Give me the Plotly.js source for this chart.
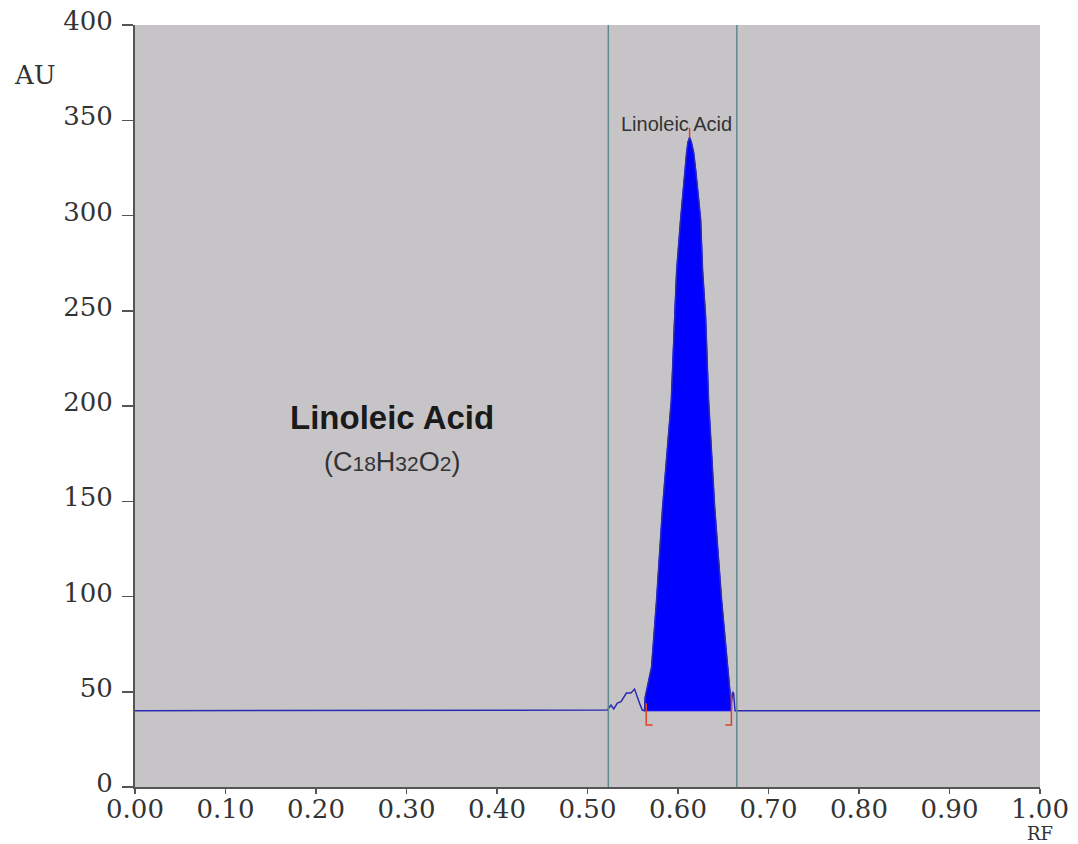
<!DOCTYPE html>
<html>
<head>
<meta charset="utf-8">
<script src="https://cdn.plot.ly/plotly-3.0.1.min.js"></script>
<style>html,body{margin:0;padding:0;background:#fff;}#chart{width:1078px;height:844px;}</style>
</head>
<body>
<div id="chart"></div>
<script>
// Densitogram signal (RF vs AU)
const rf = [0, 0.522, 0.526, 0.529, 0.533, 0.537, 0.543, 0.5465, 0.548, 0.552, 0.554, 0.5575, 0.5605, 0.563,
            0.5637, 0.5708, 0.5763, 0.583, 0.5926, 0.5962, 0.5985, 0.6029, 0.6073, 0.6095, 0.611, 0.6128,
            0.6148, 0.6173, 0.6195, 0.625, 0.6272, 0.6305, 0.6338, 0.6405, 0.6482, 0.6549, 0.658, 0.6593,
            0.6605, 0.6615, 0.663, 1.0];
const au = [40, 40.4, 43, 41, 44, 44.8, 49.3, 49.5, 49.3, 51.4, 48.3, 44, 40.4, 40,
            47, 63, 98, 147, 203, 247, 271, 298, 324, 333, 338.5, 341,
            338.5, 333, 324, 298, 271, 247, 203, 147, 98, 63, 47, 45,
            50, 49, 40, 40];
const baseline = 40;
const peakStart = 0.563;
const peakEnd = 0.6593;
const peakTop = [0.6128, 341];
const peakName = "Linoleic Acid";
const integrationWindow = [0.523, 0.665];
const bracketLeft = [0.5649, 0.572, 44, 32.5];   // x, foot x, top y, bottom y
const bracketRight = [0.659, 0.6524, 49, 32.5];
const xTicks = [0, 0.1, 0.2, 0.3, 0.4, 0.5, 0.6, 0.7, 0.8, 0.9, 1.0];
const yTicks = [0, 50, 100, 150, 200, 250, 300, 350, 400];

// peak fill polygon built from the signal
const px = [], py = [];
for (let i = 0; i < rf.length; i++) {
  if (rf[i] >= peakStart && rf[i] <= peakEnd) { px.push(rf[i]); py.push(au[i]); }
}
px.push(peakEnd, peakStart); py.push(baseline, baseline);

const traces = [
  {x: px, y: py, type: 'scatter', mode: 'lines', fill: 'toself', fillcolor: '#0000ff',
   line: {color: '#0000ff', width: 1}, hoverinfo: 'skip', showlegend: false},
  {x: rf, y: au, type: 'scatter', mode: 'lines', line: {color: '#2a2ab4', width: 1.5},
   showlegend: false}
];

const serif = 'DejaVu Serif, Liberation Serif, serif';
const red = '#e0402a';
const layout = {
  width: 1078, height: 844,
  margin: {l: 135, r: 38, t: 25, b: 57},
  paper_bgcolor: '#ffffff',
  plot_bgcolor: '#c7c4c8',
  showlegend: false,
  font: {family: serif, size: 26, color: '#333'},
  xaxis: {range: [0, 1], tickvals: xTicks, tickformat: '.2f', showgrid: false, zeroline: false,
          showline: true, linecolor: '#555', linewidth: 2, ticks: 'outside', ticklen: 5,
          tickcolor: '#555', tickwidth: 1.5, ticklabelstandoff: -7,
          tickfont: {family: serif, size: 26, color: '#333'}},
  yaxis: {range: [0, 400], tickvals: yTicks, showgrid: false, zeroline: false,
          showline: true, linecolor: '#555', linewidth: 2, ticks: 'outside', ticklen: 11,
          tickcolor: '#555', tickwidth: 1.5, ticklabelstandoff: 4, ticklabelshift: -4,
          tickfont: {family: serif, size: 26, color: '#333'}},
  shapes: [
    {type: 'line', xref: 'x', yref: 'paper', x0: integrationWindow[0], x1: integrationWindow[0], y0: 0, y1: 1,
     line: {color: '#5f8a8e', width: 1.5}},
    {type: 'line', xref: 'x', yref: 'paper', x0: integrationWindow[1], x1: integrationWindow[1], y0: 0, y1: 1,
     line: {color: '#5f8a8e', width: 1.5}},
    {type: 'path', xref: 'x', yref: 'y',
     path: `M ${bracketLeft[0]} ${bracketLeft[2]} L ${bracketLeft[0]} ${bracketLeft[3]} L ${bracketLeft[1]} ${bracketLeft[3]}`,
     line: {color: red, width: 1.5}},
    {type: 'path', xref: 'x', yref: 'y',
     path: `M ${bracketRight[0]} ${bracketRight[2]} L ${bracketRight[0]} ${bracketRight[3]} L ${bracketRight[1]} ${bracketRight[3]}`,
     line: {color: red, width: 1.5}},
    {type: 'line', xref: 'x', yref: 'y', x0: peakTop[0], x1: peakTop[0], y0: peakTop[1], y1: peakTop[1] + 5,
     line: {color: red, width: 1.5}}
  ],
  annotations: [
    {text: 'AU', xref: 'paper', yref: 'paper', x: -0.136, y: 0.935, xanchor: 'left', yanchor: 'middle',
     showarrow: false, font: {family: serif, size: 26, color: '#333'}},
    {text: 'RF', xref: 'paper', yref: 'paper', x: 1.0, y: -0.0455, xanchor: 'center', yanchor: 'top',
     borderpad: 0, showarrow: false, font: {family: serif, size: 18, color: '#333'}},
    {text: peakName, xref: 'x', yref: 'y', x: 0.5985, y: 348, xanchor: 'center', yanchor: 'middle',
     showarrow: false, font: {family: 'Liberation Sans, Arial, sans-serif', size: 20, color: '#333'}},
    {text: '<b>Linoleic Acid</b>', xref: 'paper', yref: 'paper', x: 0.284, y: 0.485, xanchor: 'center', yanchor: 'middle',
     showarrow: false, font: {family: 'Liberation Sans, Arial, sans-serif', size: 33, color: '#1a1a1a'}},
    {text: '(C<span style="font-size:21px">18</span>H<span style="font-size:21px">32</span>O<span style="font-size:21px">2</span>)',
     xref: 'paper', yref: 'paper', x: 0.284, y: 0.427, xanchor: 'center', yanchor: 'middle',
     showarrow: false, font: {family: 'Liberation Sans, Arial, sans-serif', size: 27, color: '#333'}}
  ]
};

Plotly.newPlot('chart', traces, layout, {displayModeBar: false, staticPlot: true});
</script>
</body>
</html>
